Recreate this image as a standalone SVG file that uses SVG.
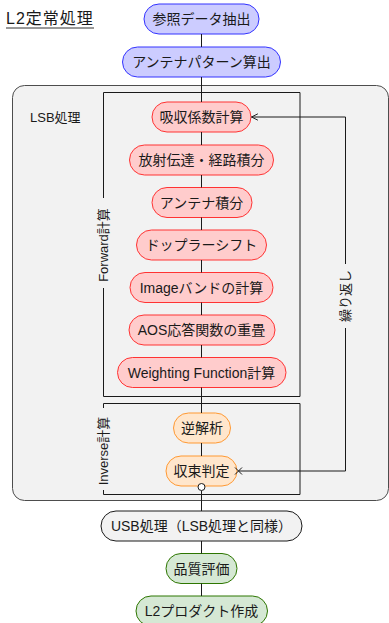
<svg xmlns="http://www.w3.org/2000/svg" width="389" height="623" viewBox="0 0 389 623">
<style>
text{font-family:"Liberation Sans","Noto Sans CJK JP",sans-serif;fill:#1a1a1a;}
.n{font-size:14px;text-anchor:middle;dominant-baseline:central;}
.blue{fill:#ccccff;stroke:#3333ff;stroke-width:1;}
.red{fill:#ffcccc;stroke:#ff3333;stroke-width:1;}
.org{fill:#ffe6cc;stroke:#ff9933;stroke-width:1;}
.grn{fill:#d5e8d4;stroke:#2d7600;stroke-width:1;}
.gry{fill:#f2f2f2;stroke:#1a1a1a;stroke-width:1;}
.ln{fill:none;stroke:#1a1a1a;stroke-width:1;}
.lbl{font-size:13px;text-anchor:middle;dominant-baseline:central;}
</style>
<defs>
<marker id="open" viewBox="0 0 10 10" refX="9" refY="5" markerWidth="8" markerHeight="8" orient="auto" markerUnits="userSpaceOnUse">
<path d="M1,1 L9,5 L1,9" fill="none" stroke="#1a1a1a" stroke-width="1.2"/>
</marker>
</defs>

<g id="title">
<text x="6" y="24" style="font-size:16px;letter-spacing:1px">L2定常処理</text>
<line x1="6" y1="28" x2="94" y2="28" stroke="#333" stroke-width="1"/>
</g>

<g id="lsb-box">
<rect x="12.5" y="85.5" width="376" height="415" rx="12" fill="#f2f2f2" stroke="#4d4d4d" stroke-width="1"/>
<text x="30" y="117" style="font-size:13px;dominant-baseline:central">LSB処理</text>
</g>

<g id="forward-box">
<path class="ln" d="M103.5,198 V92.5 H300 V396.5 H103.5 V288"/>
<text class="lbl" transform="translate(103.5,245) rotate(-90)">Forward計算</text>
</g>

<g id="inverse-box">
<path class="ln" d="M103.5,408 V403.5 H300 V494.5 H103.5 V490"/>
<text class="lbl" transform="translate(103.5,451) rotate(-90)">Inverse計算</text>
</g>

<g id="n-ref"><rect class="blue" x="144" y="4" width="115" height="30" rx="15"/><text class="n" x="201.5" y="19">参照データ抽出</text></g>
<g id="n-ant"><rect class="blue" x="122.5" y="47" width="158" height="30" rx="15"/><text class="n" x="201.5" y="62">アンテナパターン算出</text></g>

<g id="n-abs"><rect class="red" x="152" y="102" width="99" height="30" rx="15"/><text class="n" x="201.5" y="117">吸収係数計算</text></g>
<g id="n-rad"><rect class="red" x="129.5" y="145" width="144" height="30" rx="15"/><text class="n" x="201.5" y="160">放射伝達・経路積分</text></g>
<g id="n-aint"><rect class="red" x="152" y="187.5" width="100" height="30" rx="15"/><text class="n" x="201.5" y="202.5">アンテナ積分</text></g>
<g id="n-dop"><rect class="red" x="136.5" y="230" width="130" height="30" rx="15"/><text class="n" x="201.5" y="245">ドップラーシフト</text></g>
<g id="n-img"><rect class="red" x="130" y="272.5" width="143" height="30" rx="15"/><text class="n" x="201.5" y="287.5">Imageバンドの計算</text></g>
<g id="n-aos"><rect class="red" x="129" y="315" width="146" height="30" rx="15"/><text class="n" x="201.5" y="330">AOS応答関数の重畳</text></g>
<g id="n-wf"><rect class="red" x="117.5" y="357.5" width="168.5" height="30" rx="15"/><text class="n" x="201.5" y="372.5">Weighting Function計算</text></g>

<g id="n-inv"><rect class="org" x="173.5" y="413" width="57" height="30" rx="15"/><text class="n" x="202" y="428">逆解析</text></g>
<g id="n-conv"><rect class="org" x="166" y="456" width="71" height="30" rx="15"/><text class="n" x="201.5" y="471">収束判定</text></g>

<g id="n-usb"><rect class="gry" x="101" y="511" width="201" height="30" rx="15"/><text class="n" x="201.5" y="526">USB処理（LSB処理と同様）</text></g>
<g id="n-qa"><rect class="grn" x="166" y="553.5" width="71" height="30" rx="15"/><text class="n" x="201.5" y="568.5">品質評価</text></g>
<g id="n-l2"><rect class="grn" x="136" y="596" width="131.5" height="30" rx="15"/><text class="n" x="201.5" y="611">L2プロダクト作成</text></g>

<g id="connectors">
<path class="ln" d="M201.5,34 V47 M201.5,77 V102 M201.5,132 V145 M201.5,175 V187.5 M201.5,217.5 V230 M201.5,260 V272.5 M201.5,302.5 V315 M201.5,345 V357.5 M201.5,387.5 V413 M201.5,443 V456 M201.5,490.5 V511 M201.5,541 V553.5 M201.5,583.5 V596"/>
<path class="ln" d="M238.5,471 H345.5 V117 H251.5" marker-end="url(#open)"/>
<path class="ln" d="M235,467.5 L242,474.5 M235,474.5 L242,467.5" stroke-width="1.2"/>
<circle cx="201.5" cy="487" r="3.5" fill="#ffffff" stroke="#1a1a1a" stroke-width="1"/>
<rect x="338" y="264" width="15" height="64" fill="#f2f2f2"/>
<text class="lbl" transform="translate(345.5,296) rotate(-90)">繰り返し</text>
</g>
</svg>
